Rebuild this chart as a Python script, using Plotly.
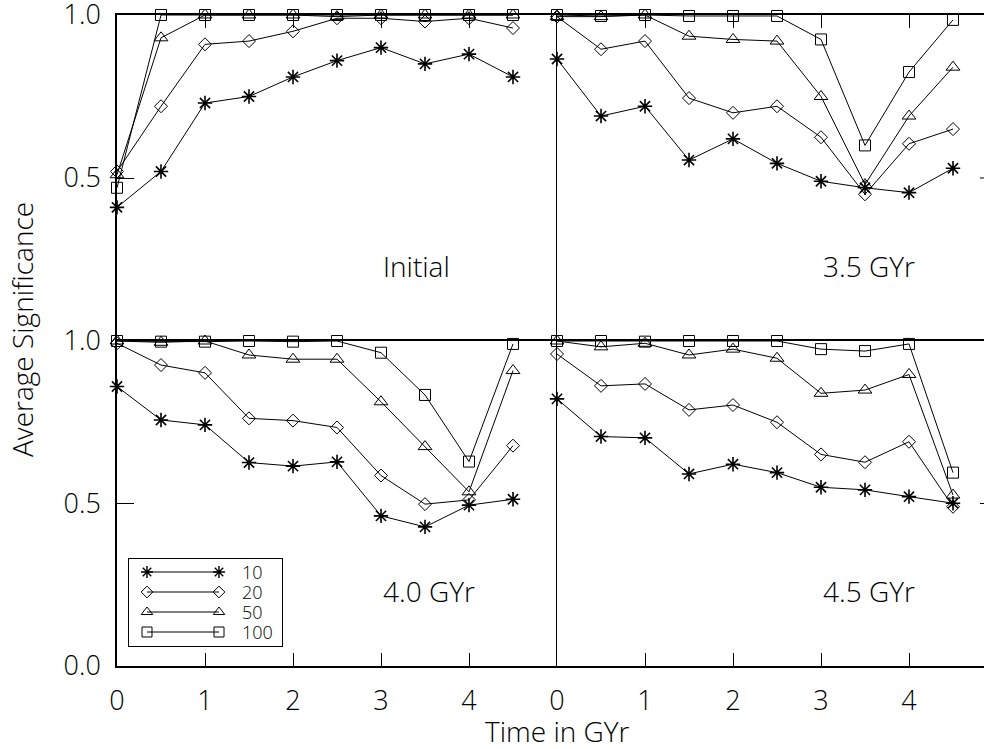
import plotly.graph_objects as go

# ---------------- data ----------------
time = [0.0, 0.5, 1.0, 1.5, 2.0, 2.5, 3.0, 3.5, 4.0, 4.5]
series_names = ["10", "20", "50", "100"]
panel_labels = ["Initial", "3.5 GYr", "4.0 GYr", "4.5 GYr"]

initial_10 = [0.41, 0.52, 0.73, 0.75, 0.81, 0.86, 0.90, 0.85, 0.88, 0.81]
initial_20 = [0.52, 0.72, 0.91, 0.92, 0.95, 0.99, 0.99, 0.98, 0.99, 0.96]
initial_50 = [0.51, 0.93, 1.00, 1.00, 1.00, 0.995, 1.00, 1.00, 1.00, 1.00]
initial_100 = [0.47, 1.00, 1.00, 1.00, 1.00, 1.00, 1.00, 1.00, 1.00, 1.00]

gyr35_10 = [0.865, 0.69, 0.72, 0.555, 0.62, 0.545, 0.49, 0.47, 0.455, 0.53]
gyr35_20 = [0.995, 0.895, 0.92, 0.745, 0.70, 0.72, 0.625, 0.45, 0.605, 0.65]
gyr35_50 = [0.995, 0.995, 1.00, 0.935, 0.925, 0.92, 0.75, 0.48, 0.69, 0.84]
gyr35_100 = [1.00, 0.997, 1.00, 0.997, 0.997, 0.997, 0.925, 0.60, 0.825, 0.985]

gyr40_10 = [0.86, 0.757, 0.742, 0.626, 0.615, 0.628, 0.462, 0.428, 0.495, 0.513]
gyr40_20 = [0.993, 0.926, 0.902, 0.762, 0.755, 0.734, 0.586, 0.498, 0.511, 0.678]
gyr40_50 = [1.00, 0.996, 1.00, 0.957, 0.944, 0.944, 0.813, 0.675, 0.536, 0.909]
gyr40_100 = [1.00, 0.998, 0.998, 1.00, 0.998, 1.00, 0.964, 0.834, 0.629, 0.991]

gyr45_10 = [0.822, 0.706, 0.702, 0.591, 0.621, 0.595, 0.550, 0.542, 0.521, 0.501]
gyr45_20 = [0.960, 0.862, 0.868, 0.788, 0.803, 0.750, 0.651, 0.627, 0.690, 0.490]
gyr45_50 = [1.00, 0.982, 0.993, 0.957, 0.975, 0.947, 0.839, 0.849, 0.897, 0.526]
gyr45_100 = [1.00, 1.00, 0.998, 1.00, 1.00, 1.00, 0.975, 0.969, 0.991, 0.595]

x_tick_vals = [0, 1, 2, 3, 4]
x_tick_text = ["0", "1", "2", "3", "4"]
y_top_vals = [0.5, 1.0]
y_top_text = ["0.5", "1.0"]
y_bot_vals = [0.0, 0.5, 1.0]
y_bot_text = ["0.0", "0.5", "1.0"]

panels = [
    [initial_10, initial_20, initial_50, initial_100],
    [gyr35_10, gyr35_20, gyr35_50, gyr35_100],
    [gyr40_10, gyr40_20, gyr40_50, gyr40_100],
    [gyr45_10, gyr45_20, gyr45_50, gyr45_100],
]

# ---------------- styles ----------------
W, H = 984, 749
FONT = "Open Sans, DejaVu Sans, sans-serif"
WEIGHT = 300
symbols = ["asterisk-open", "diamond-open", "triangle-up-open", "square-open"]
sizes = [12, 10, 12, 11]
leg_sizes = [10, 9, 10, 10]

def px_x(p):
    return p / W

def px_y(p):
    return (H - p) / H

def tfont(size):
    return dict(family=FONT, size=size, weight=WEIGHT, color="black")

x_left = [px_x(117), px_x(557)]
x_right = [px_x(557), 1.0]
y_top = [px_y(341), px_y(15)]
y_bot = [px_y(666), px_y(341)]
right_range = [0, (984 - 557) / 88.0]

fig = go.Figure()

axis_map = [("x", "y"), ("x2", "y2"), ("x3", "y3"), ("x4", "y4")]
for p, data in enumerate(panels):
    xa, ya = axis_map[p]
    for s, vals in enumerate(data):
        fig.add_trace(go.Scatter(
            x=time, y=vals, xaxis=xa, yaxis=ya, mode="lines+markers",
            line=dict(color="black", width=1),
            marker=dict(symbol=symbols[s], size=sizes[s], color="black",
                        line=dict(color="black", width=1.6 if s == 0 else 1)),
            cliponaxis=False, showlegend=False, hoverinfo="skip"))

# custom legend (drawn in its own pixel-unit axes)
leg_rows = [572 + 20 * i for i in range(len(series_names))]
for i, name in enumerate(series_names):
    fig.add_trace(go.Scatter(
        x=[147, 219], y=[leg_rows[i], leg_rows[i]], xaxis="x5", yaxis="y5",
        mode="lines+markers", line=dict(color="black", width=1),
        marker=dict(symbol=symbols[i], size=leg_sizes[i], color="black",
                    line=dict(color="black", width=1.4 if i == 0 else 1)),
        cliponaxis=False, showlegend=False, hoverinfo="skip"))

tick_font = tfont(27)
common_x = dict(showgrid=False, zeroline=False, ticks="inside", ticklen=13,
                tickcolor="black", tickwidth=1, linecolor="black", fixedrange=True,
                automargin=False, ticklabeloverflow="allow")
common_y = dict(showgrid=False, zeroline=False, ticks="inside", ticklen=17,
                tickcolor="black", tickwidth=1, linecolor="black", fixedrange=True,
                range=[0, 1], automargin=False, ticklabeloverflow="allow")

fig.update_layout(
    width=W, height=H, margin=dict(l=0, r=0, t=0, b=0, autoexpand=False),
    paper_bgcolor="white", plot_bgcolor="rgba(0,0,0,0)",
    showlegend=False,
    xaxis=dict(common_x, domain=x_left, range=[0, 5], anchor="y", side="top",
               tickvals=[1, 2, 3, 4], showticklabels=False, showline=True, linewidth=1.5),
    xaxis2=dict(common_x, domain=x_right, range=right_range, anchor="y2", side="top",
                tickvals=[1, 2, 3, 4], showticklabels=False, showline=True, linewidth=1.5),
    xaxis3=dict(common_x, domain=x_left, range=[0, 5], anchor="y3", side="bottom",
                tickvals=x_tick_vals, ticktext=x_tick_text, tickfont=tick_font,
                ticklabelstandoff=10, showline=True, linewidth=2, mirror=True),
    xaxis4=dict(common_x, domain=x_right, range=right_range, anchor="y4", side="bottom",
                tickvals=x_tick_vals, ticktext=x_tick_text, tickfont=tick_font,
                ticklabelstandoff=10, showline=True, linewidth=2, mirror=True),
    yaxis=dict(common_y, domain=y_top, anchor="x", side="left",
               tickvals=y_top_vals, ticktext=y_top_text, tickfont=tick_font,
               ticklabelstandoff=9, showline=True, linewidth=1.5),
    yaxis2=dict(common_y, domain=y_top, anchor="x2", side="left", ticks="",
                showticklabels=False, showline=True, linewidth=1.2),
    yaxis3=dict(common_y, domain=y_bot, anchor="x3", side="left",
                tickvals=y_bot_vals, ticktext=y_bot_text, tickfont=tick_font,
                ticklabelstandoff=9, showline=True, linewidth=1.5),
    yaxis4=dict(common_y, domain=y_bot, anchor="x4", side="left", ticks="",
                showticklabels=False, showline=True, linewidth=1.2),
    xaxis5=dict(domain=[px_x(129), px_x(282)], range=[129, 282], anchor="y5",
                showgrid=False, zeroline=False, showticklabels=False, ticks="",
                showline=True, mirror=True, linecolor="black", linewidth=1,
                fixedrange=True, automargin=False),
    yaxis5=dict(domain=[px_y(646), px_y(559)], range=[646, 559], anchor="x5",
                showgrid=False, zeroline=False, showticklabels=False, ticks="",
                showline=True, mirror=True, linecolor="black", linewidth=1,
                fixedrange=True, automargin=False),
)

annotations = []
label_axes = [("x", "y"), ("x2", "y2"), ("x3", "y3"), ("x4", "y4")]
for (xa, ya), lab in zip(label_axes, panel_labels):
    annotations.append(dict(x=3.0, y=0.23, xref=xa, yref=ya, text=lab, showarrow=False,
                            xanchor="left", yanchor="middle", font=tfont(28)))
for i, name in enumerate(series_names):
    annotations.append(dict(x=240, y=leg_rows[i], xref="x5", yref="y5", text=name,
                            showarrow=False, xanchor="left", yanchor="middle",
                            font=tfont(18)))
annotations.append(dict(x=px_x(557), y=px_y(731), xref="paper", yref="paper",
                        text="Time in GYr", showarrow=False, xanchor="center",
                        yanchor="middle", font=tfont(28)))
annotations.append(dict(x=px_x(22), y=px_y(330), xref="paper", yref="paper",
                        text="Average Significance", showarrow=False, textangle=-90,
                        xanchor="center", yanchor="middle", font=tfont(28)))
fig.update_layout(annotations=annotations)

# right-axis tick stubs (the right frame lies just beyond the picture edge)
shapes = []
for ya in ["y2", "y4"]:
    shapes.append(dict(type="line", xref="paper", yref=ya, x0=px_x(980), x1=1.0,
                       y0=0.5, y1=0.5, line=dict(color="black", width=1)))
fig.update_layout(shapes=shapes)

fig.write_html("out.html")
